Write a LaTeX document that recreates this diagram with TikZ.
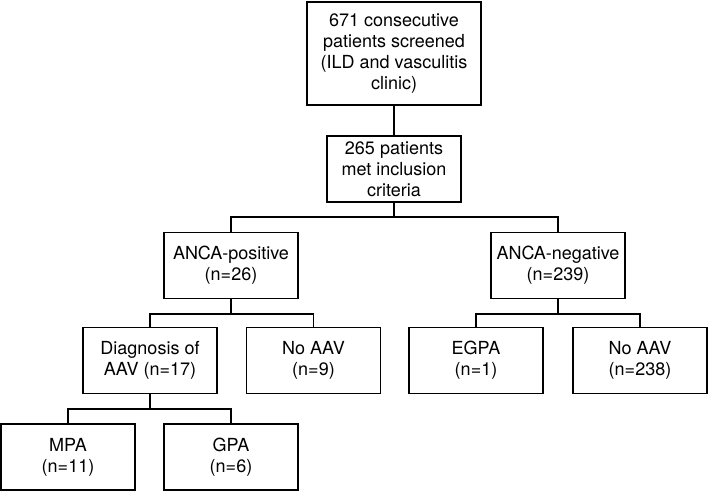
\documentclass[tikz,border=0pt]{standalone}
\usepackage{fontspec}
\setmainfont{TeX Gyre Heros}
\begin{document}
\begin{tikzpicture}[x=1pt,y=1pt,
  box/.style={draw=black, line width=1.8pt, fill=white, align=center, inner sep=0pt,
    font=\fontsize{18}{21}\selectfont, minimum width=134pt, minimum height=66pt},
  conn/.style={draw=black, line width=1.8pt}]
\useasboundingbox (0,0) rectangle (709,492);
\node[box, minimum width=174pt, minimum height=103pt] (top) at (394,438.5) {671 consecutive\\patients screened\\(ILD and vasculitis\\clinic)};
\node[box] (inc) at (394,323) {265 patients\\met inclusion\\criteria};
\node[box] (pos) at (231,226.5) {ANCA-positive\\(n=26)};
\node[box] (neg) at (558,226.5) {ANCA-negative\\(n=239)};
\node[box] (diag) at (150,131.5) {Diagnosis of\\AAV (n=17)};
\node[box] (noa) at (313.5,131.5) {No AAV\\(n=9)};
\node[box] (egpa) at (476,131.5) {EGPA\\(n=1)};
\node[box] (nob) at (640,131.5) {No AAV\\(n=238)};
\node[box] (mpa) at (68,35) {MPA\\(n=11)};
\node[box] (gpa) at (231,35) {GPA\\(n=6)};
\coordinate (b1) at (394,275);
\coordinate (b2) at (231,178);
\coordinate (b3) at (558,178);
\coordinate (b4) at (150,83);
\draw[conn] (top.south) -- (inc.north);
\draw[conn] (inc.south) -- (b1);
\draw[conn] (pos.north) |- (b1) -| (neg.north);
\draw[conn] (pos.south) -- (b2);
\draw[conn] (diag.north) |- (b2) -| (noa.north);
\draw[conn] (neg.south) -- (b3);
\draw[conn] (egpa.north) |- (b3) -| (nob.north);
\draw[conn] (diag.south) -- (b4);
\draw[conn] (mpa.north) |- (b4) -| (gpa.north);
\end{tikzpicture}
\end{document}
